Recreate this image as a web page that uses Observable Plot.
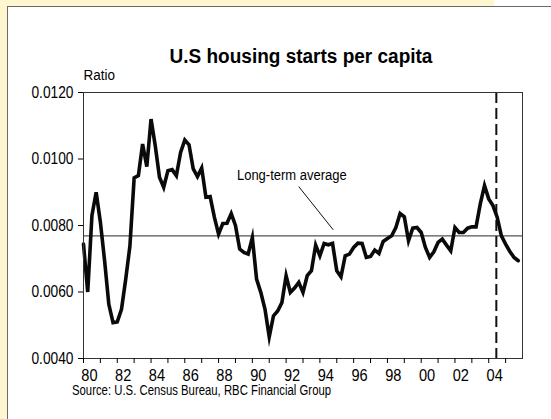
<!DOCTYPE html>
<html>
<head>
<meta charset="utf-8">
<script src="https://cdn.jsdelivr.net/npm/d3@7"></script>
<script src="https://cdn.jsdelivr.net/npm/@observablehq/plot@0.6"></script>
<style>
  html, body { margin: 0; padding: 0; background: #fff; width: 551px; height: 419px; overflow: hidden; }
  #page { position: relative; width: 551px; height: 419px; overflow: hidden; background: #fff; }
  .cream { position: absolute; left: 0; top: 0; width: 494px; height: 419px; background: #fef6cf; }
  .panel { position: absolute; left: 7px; top: 6px; width: 600px; height: 500px; background: #fff; border-top: 1.5px solid #6a6a6a; border-left: 1.5px solid #6a6a6a; box-sizing: border-box; }
  .title { position: absolute; left: 0; top: 46px; width: 602px; text-align: center; font: bold 20px 'Liberation Sans', Arial, sans-serif; line-height: 1; color: #000; transform: scaleX(0.95); transform-origin: 301px 50%; white-space: nowrap; }
  .source { position: absolute; left: 72px; top: 383px; font: 14px 'Liberation Sans', Arial, sans-serif; line-height: 1; color: #000; white-space: nowrap; transform: scaleX(0.81); transform-origin: 0 50%; }
  #chart { position: absolute; left: 0; top: 64px; }
</style>
</head>
<body>
<div id="page">
<div class="cream"></div>
<div class="panel"></div>
<div class="title">U.S housing starts per capita</div>
<div id="chart"></div>
<div class="source">Source: U.S. Census Bureau, RBC Financial Group</div>
</div>
<script>
const FONT = "'Liberation Sans', Arial, sans-serif";

// Quarterly housing starts per capita, 1980Q1 .. 2005Q4
const startYear = 1980;
const values = [
  0.00744, 0.00600, 0.00830, 0.00900, 0.00810, 0.00694, 0.00563, 0.00508,
  0.00510, 0.00548, 0.00638, 0.00739, 0.00943, 0.00950, 0.01045, 0.00977,
  0.01120, 0.01040, 0.00945, 0.00915, 0.00965, 0.00968, 0.00950, 0.01020,
  0.01057, 0.01043, 0.00970, 0.00947, 0.00973, 0.00885, 0.00887, 0.00825,
  0.00774, 0.00806, 0.00807, 0.00836, 0.00800, 0.00729, 0.00719, 0.00714,
  0.00764, 0.00639, 0.00599, 0.00548, 0.00465, 0.00528, 0.00543, 0.00568,
  0.00649, 0.00599, 0.00612, 0.00629, 0.00599, 0.00649, 0.00664, 0.00741,
  0.00709, 0.00746, 0.00742, 0.00746, 0.00664, 0.00646, 0.00709, 0.00714,
  0.00734, 0.00747, 0.00746, 0.00704, 0.00707, 0.00726, 0.00716, 0.00752,
  0.00761, 0.00769, 0.00794, 0.00836, 0.00826, 0.00754, 0.00792, 0.00794,
  0.00779, 0.00734, 0.00704, 0.00721, 0.00749, 0.00759, 0.00741, 0.00724,
  0.00794, 0.00779, 0.00779, 0.00792, 0.00796, 0.00796, 0.00865, 0.00920,
  0.00880, 0.00860, 0.00825, 0.00769, 0.00744, 0.00722, 0.00704, 0.00694
];

const longTermAverage = 0.00769;
const forecastStart = 2004.45;

const yTicks = [0.004, 0.006, 0.008, 0.010, 0.012];
const tickYears = d3.range(1980, 2006);
const labelYears = [1980, 1982, 1984, 1986, 1988, 1990, 1992, 1994, 1996, 1998, 2000, 2002, 2004];
const xLabels = ["80", "82", "84", "86", "88", "90", "92", "94", "96", "98", "00", "02", "04"];

const noteText = "Long-term average";
const notePos = {x: 1992.34, y: 0.00953};
const callout = {x1: 1992.75, y1: 0.00917, x2: 1994.79, y2: 0.00787};
const yLabel = "Ratio";

const series = values.map((v, i) => ({t: startYear + i / 4, v}));

const chart = Plot.plot({
  width: 551,
  height: 320,
  marginLeft: 83,
  marginRight: 29,
  marginTop: 28,
  marginBottom: 26,
  style: {fontFamily: FONT, background: "transparent", color: "#000"},
  x: {domain: [1980, 2006], axis: null},
  y: {domain: [0.004, 0.012], axis: null},
  marks: [
    Plot.ruleY([longTermAverage], {stroke: "#555", strokeWidth: 1.3}),
    Plot.ruleX([forecastStart], {stroke: "#111", strokeWidth: 2, strokeDasharray: "11,5"}),
    Plot.line(series, {x: "t", y: "v", stroke: "#0a0a0a", strokeWidth: 3.6, strokeLinejoin: "miter", strokeMiterlimit: 6}),
    Plot.link([callout], {x1: "x1", y1: "y1", x2: "x2", y2: "y2", stroke: "#111", strokeWidth: 1}),
    Plot.text([notePos], {x: "x", y: "y", text: () => noteText, fontSize: 15.5, lineAnchor: "middle", fill: "#000"}),
    Plot.frame({stroke: "#333", strokeWidth: 1}),
    Plot.axisY({ticks: yTicks, tickFormat: d3.format(".4f"), tickSize: 5, tickPadding: 5, fontSize: 17, label: null}),
    Plot.axisX({ticks: tickYears, tickSize: 5, tickFormat: () => "", label: null}),
    Plot.axisX({
      ticks: labelYears.map(y => y + 0.35),
      tickSize: 0,
      tickPadding: 10,
      tickFormat: d => xLabels[labelYears.indexOf(Math.round(d - 0.35))],
      fontSize: 17,
      label: null
    }),
    Plot.text([yLabel], {frameAnchor: "top-left", dy: -17, textAnchor: "start", lineAnchor: "middle", fontSize: 14.5, fill: "#000"})
  ]
});

// Condense the text horizontally (about each text's anchor) to match the narrow typeface of the original
const squeezeByGroup = {"y-axis tick label": 0.81, "x-axis tick label": 0.86};
const squeezeByText = {[noteText]: 0.84, [yLabel]: 0.93};
chart.querySelectorAll("text").forEach(t => {
  const g = t.closest("g[aria-label]");
  const k = (g && squeezeByGroup[g.getAttribute("aria-label")]) || squeezeByText[t.textContent];
  if (!k) return;
  const x = +(t.getAttribute("x") || 0);
  const prev = t.getAttribute("transform") || "";
  t.setAttribute("transform", `${prev} translate(${x},0) scale(${k},1) translate(${-x},0)`);
});
document.getElementById("chart").appendChild(chart);
</script>
</body>
</html>
